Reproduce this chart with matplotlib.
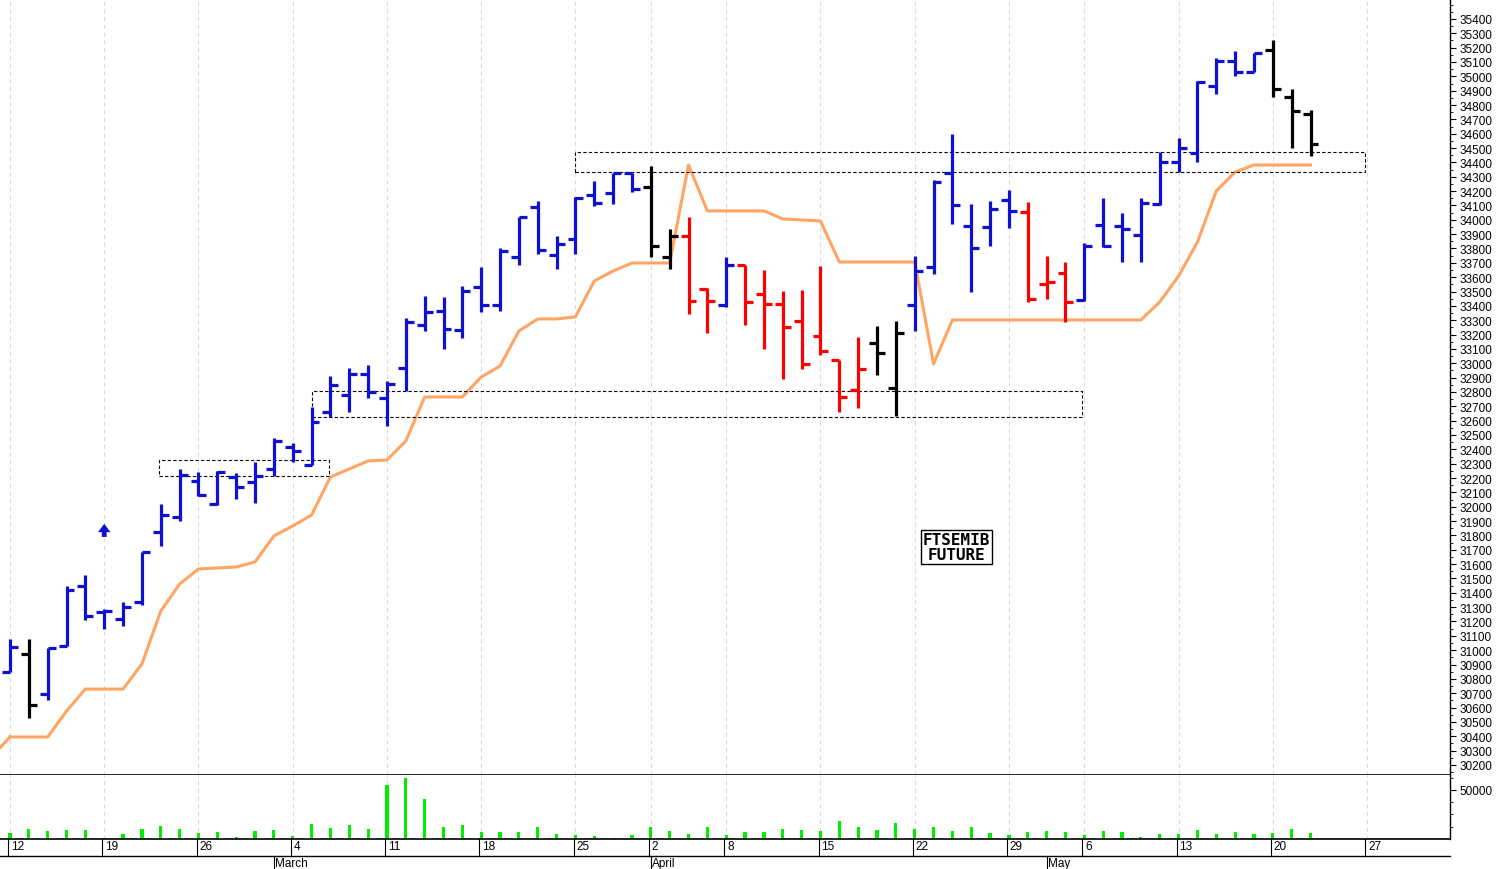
import matplotlib
matplotlib.use("Agg")
import matplotlib.pyplot as plt
from matplotlib.patches import Rectangle

plt.rcParams['font.family'] = ['Liberation Sans', 'DejaVu Sans']

opens = [30850,30974,30695,31030,31448,31267,31218,31336,31824,31929,32180,32020,32208,32173,32263,
         32417,32291,32661,32779,32925,32758,32967,33267,33365,33232,33532,33406,33741,34090,33755,
         33866,34173,34187,34327,34229,33741,33887,33518,33406,33685,33483,33413,33295,33190,33023,
         32814,33142,32828,33406,33671,34327,33957,33950,34138,34054,33553,33629,33441,33964,33957,
         33894,34110,34403,34466,34933,35107,35031,35184,34856,34738]
highs = [31078,31078,31015,31448,31524,31287,31336,31685,32020,32263,32243,32250,32236,32312,32480,
         32445,32698,32911,32967,32988,32877,33316,33469,33462,33539,33671,33804,34020,34131,33887,
         34159,34271,34327,34327,34376,33936,34020,33525,33741,33685,33650,33504,33511,33678,33023,
         33183,33260,33295,33748,34278,34598,34110,34131,34208,34124,33748,33706,33839,34152,34048,
         34152,34473,34570,34968,35128,35177,35163,35254,34912,34766]
lows = [30848,30528,30653,31030,31211,31148,31169,31316,31727,31901,32075,32012,32055,32026,32215,
        32312,32291,32626,32661,32758,32563,32807,33225,33100,33176,33358,33365,33685,33762,33657,
        33762,34097,34110,34194,33741,33657,33344,33211,33393,33267,33100,32891,32960,33058,32661,
        32689,32918,32633,33225,33622,33971,33497,33818,33943,33427,33448,33288,33434,33811,33706,
        33706,34103,34334,34403,34877,35003,35031,34856,34501,34445]
closes = [31022,30618,31015,31420,31238,31274,31301,31685,31943,32221,32082,32243,32138,32215,32459,
          32389,32591,32849,32925,32800,32856,33288,33358,33239,33504,33406,33783,34020,33790,33832,
          34152,34117,34327,34215,33818,33887,33434,33434,33685,33427,33413,33253,32995,33086,32765,
          32960,33072,33211,33643,34264,34103,33804,34075,34062,33448,33567,33427,33818,33818,33936,
          34117,34403,34501,34961,35107,35031,35163,34912,34759,34529]
bar_colors = (['b', 'k'] + ['b'] * 32 + ['k', 'k', 'r', 'r', 'b'] + ['r'] * 7 + ['k', 'k']
              + ['b'] * 6 + ['r'] * 3 + ['b'] * 10 + ['k'] * 3)
trend = [30395,30395,30395,30576,30729,30729,30729,30904,31273,31461,31566,31573,31580,31615,31796,
         31866,31942,32207,32263,32319,32326,32458,32765,32765,32765,32904,32981,33225,33309,33309,
         33323,33574,33643,33699,33699,33699,34382,34062,34062,34062,34062,34006,33999,33992,33706,
         33706,33706,33706,33706,32995,33302,33302,33302,33302,33302,33302,33302,33302,33302,33302,
         33302,33427,33608,33845,34201,34333,34382,34382,34382,34382]
volume = [6250,9700,8300,9400,9400,700,5200,10400,13200,10400,6250,6900,1700,8300,9400,
          3500,15600,11500,14600,10400,54800,62500,41000,12100,14600,6900,6900,6900,12100,5200,
          4200,3100,1000,4200,11800,8300,5200,12100,4200,6900,6900,10400,8700,8300,18000,
          12100,8700,16000,10000,12500,8300,12500,6250,4200,6900,8300,6900,4200,8300,7600,
          1700,4900,4900,8700,4900,7300,5200,6250,10400,6250]
week_idx = [0, 5, 10, 15, 20, 25, 30, 34, 38, 43, 48, 53, 57, 62, 67, 72]
week_lbl = ['12', '19', '26', '4', '11', '18', '25', '2', '8', '15', '22', '29', '6', '13', '20', '27']
month_idx = [14, 34, 55]
month_lbl = ['March', 'April', 'May']
boxes = [(7.9, 16.9, 32214, 32326), (16.0, 56.9, 32626, 32807), (30.0, 71.9, 34333, 34473)]

colmap = {'b': '#1010d0', 'r': '#ff0000', 'k': '#000000'}
W, H = 1499, 870
fig = plt.figure(figsize=(W / 100, H / 100), dpi=100)
xl = (-0.53, 76.4)
axp = fig.add_axes([0, (H - 776) / H, 1450 / W, 776 / H])
axv = fig.add_axes([0, (H - 840) / H, 1450 / W, 64 / H])

for ax in (axp, axv):
    ax.set_xlim(*xl)
    for s in ('left', 'top'):
        ax.spines[s].set_visible(False)
    ax.spines['right'].set_linewidth(1)
    ax.spines['bottom'].set_linewidth(1.2)
    ax.yaxis.tick_right()
    ax.set_xticks([])
    for w in week_idx:
        ax.axvline(w, color='#d8d8d8', lw=0.7, ls=(0, (4, 4)), zorder=0)
    ax.tick_params(axis='y', direction='out', length=4, labelsize=8.5, pad=3)
    ax.tick_params(axis='y', which='minor', length=2.5)

axp.set_ylim(30130, 35539)
axp.set_yticks(range(30200, 35401, 100))
axp.set_yticks(range(30150, 35501, 50), minor=True)

tk = 0.42
for i, (o, h, l, c, cc) in enumerate(zip(opens, highs, lows, closes, bar_colors)):
    col = colmap[cc]
    axp.plot([i, i], [l, h], color=col, lw=2.3, solid_capstyle='butt')
    axp.plot([i - tk, i], [o, o], color=col, lw=2.3, solid_capstyle='butt')
    axp.plot([i, i + tk], [c, c], color=col, lw=2.3, solid_capstyle='butt')

axp.plot(range(len(trend)), trend, color='#ffa564', lw=2.2, zorder=1)
axp.plot([-0.6, 0], [30310, trend[0]], color='#ffa564', lw=2.2, zorder=1)

for x0, x1, y0, y1 in boxes:
    axp.add_patch(Rectangle((x0, y0), x1 - x0, y1 - y0, fill=False, ec='black',
                            lw=0.8, ls=(0, (3, 2))))

axp.annotate('', xy=(5, 31900), xytext=(5, 31770),
             arrowprops=dict(arrowstyle='simple,head_width=0.9,head_length=0.6,tail_width=0.35',
                             color='#1010d0', lw=0))

axp.text(50.2, 31719, 'FTSEMIB\nFUTURE', ha='center', va='center', fontsize=11.5,
         fontweight='bold', family=['DejaVu Sans Mono'], linespacing=0.95,
         bbox=dict(boxstyle='square,pad=0.12', fc='white', ec='black', lw=1))

axv.bar(range(len(volume)), volume, width=0.17, color='#00ee00')
axv.set_ylim(0, 65300)
axv.set_yticks([50000])
axv.set_yticks([12500, 25000, 37500, 62500], minor=True)
axv.yaxis.set_major_formatter(matplotlib.ticker.FuncFormatter(lambda v, p: '%d' % v))

# date strip
trans = axv.get_xaxis_transform()
d1 = -17 / 64
d2 = -30 / 64
axv.plot([xl[0], xl[1]], [d1, d1], transform=trans, color='black', lw=1, clip_on=False)
for w, lb in zip(week_idx, week_lbl):
    axv.plot([w - 0.1, w - 0.1], [0, d1], transform=trans, color='black', lw=0.8, clip_on=False)
    axv.text(w + 0.05, -0.02, lb, transform=trans, fontsize=8.5, va='top', ha='left')
for m, lb in zip(month_idx, month_lbl):
    axv.plot([m, m], [d1, d2], transform=trans, color='black', lw=0.8, clip_on=False)
    axv.text(m + 0.05, d1 - 0.02, lb, transform=trans, fontsize=8.5, va='top', ha='left')

fig.savefig('out.png', dpi=100)
